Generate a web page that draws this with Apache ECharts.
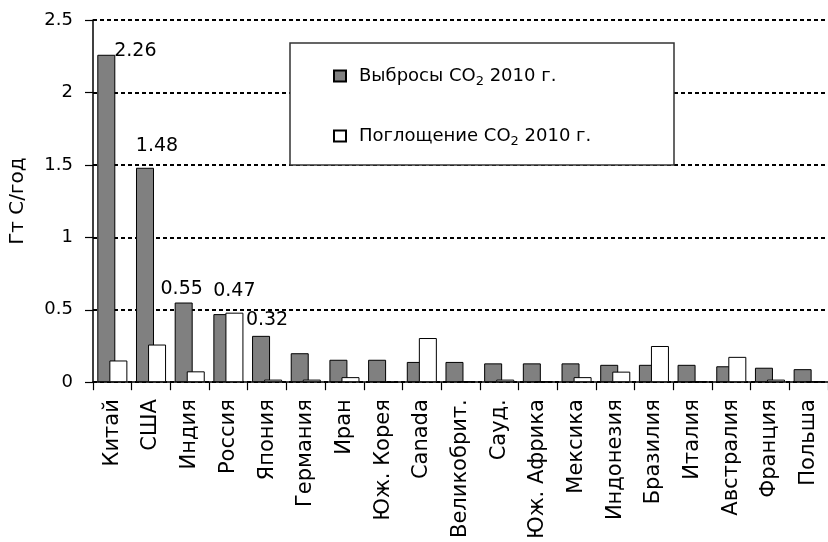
<!DOCTYPE html>
<html>
<head>
<meta charset="utf-8">
<script src="https://cdn.jsdelivr.net/npm/echarts@6/dist/echarts.min.js"></script>
<style>
html,body{margin:0;padding:0;background:#fff;}
#chart{width:828px;height:542px;}
</style>
</head>
<body>
<div id="chart"></div>
<script>
var categories = ['Китай','США','Индия','Россия','Япония','Германия','Иран','Юж. Корея','Canada','Великобрит.','Сауд.','Юж. Африка','Мексика','Индонезия','Бразилия','Италия','Австралия','Франция','Польша'];
var emissions = [2.26,1.48,0.55,0.47,0.32,0.20,0.155,0.155,0.14,0.14,0.13,0.13,0.13,0.12,0.12,0.12,0.11,0.10,0.09];
var absorption = [0.15,0.26,0.075,0.48,0.018,0.018,0.035,0,0.305,0.005,0.018,0.005,0.035,0.073,0.25,0.005,0.175,0.018,0.005];
var yTicks = [0,0.5,1,1.5,2,2.5];
var seriesNames = ['Выбросы CO2 2010 г.','Поглощение CO2 2010 г.'];
var yName = 'Гт С/год';
var labeledCount = 5;

// label offsets (style only)
var labelOffsets = [[29,11],[12,-7],[-2,1],[12,-9],[6,-1]];

var FONT = 'DejaVu Sans';

var emData = emissions.map(function(v,i){
  var d = {value:v};
  if(i < labeledCount){
    d.label = {show:true, position:'top', offset:labelOffsets[i], formatter:String(v),
      fontFamily:FONT, fontSize:19, color:'#000'};
  }
  return d;
});

var chart = echarts.init(document.getElementById('chart'));
var legendText = {
  fontFamily:FONT, fontSize:18, color:'#000', padding:[0,0,0,8],
  rich:{ s:{fontFamily:FONT, fontSize:13, color:'#000', padding:[12,0,0,0]} }
};
function fmt(name){ return name.replace('CO2','CO{s|2}'); }

chart.setOption({
  animation:false,
  backgroundColor:'#fff',
  grid:{left:93, top:20, right:-5, bottom:157, containLabel:false},
  graphic:[{type:'rect', z:3, shape:{x:290,y:43,width:384,height:122},
    style:{fill:'#fff', stroke:'#333', lineWidth:1.5}}],
  legend:[
    {data:[seriesNames[0]], left:333, top:67, orient:'vertical', padding:0, icon:'rect',
     itemWidth:12, itemHeight:11, selectedMode:false, formatter:fmt, textStyle:legendText, z:5},
    {data:[seriesNames[1]], left:333, top:127, orient:'vertical', padding:0, icon:'rect',
     itemWidth:12, itemHeight:11, selectedMode:false, formatter:fmt, textStyle:legendText, z:5}
  ],
  xAxis:{
    type:'category', data:categories,
    axisLine:{lineStyle:{color:'#000', width:1.5}},
    axisTick:{show:true, length:8, lineStyle:{color:'#000', width:1.2}},
    axisLabel:{interval:0, rotate:90, fontFamily:FONT, fontSize:21, color:'#000', margin:17}
  },
  yAxis:{
    type:'value', min:0, max:2.5, interval:0.5,
    name:yName, nameLocation:'middle', nameRotate:90, nameGap:65,
    nameTextStyle:{fontFamily:FONT, fontSize:20, color:'#000'},
    axisLine:{show:true, lineStyle:{color:'#000', width:1.5}},
    axisTick:{show:true, length:8, lineStyle:{color:'#000', width:1.2}},
    axisLabel:{fontFamily:FONT, fontSize:18, color:'#000', margin:20},
    splitLine:{show:true, lineStyle:{color:'#000', width:2, type:[4,3]}}
  },
  series:[
    {name:seriesNames[0], type:'bar', data:emData, barWidth:18, barGap:'-33%',
     itemStyle:{color:'#808080', borderColor:'#000', borderWidth:1}},
    {name:seriesNames[1], type:'bar', data:absorption, barWidth:18,
     itemStyle:{color:'#fff', borderColor:'#000', borderWidth:1}}
  ]
});
</script>
</body>
</html>
